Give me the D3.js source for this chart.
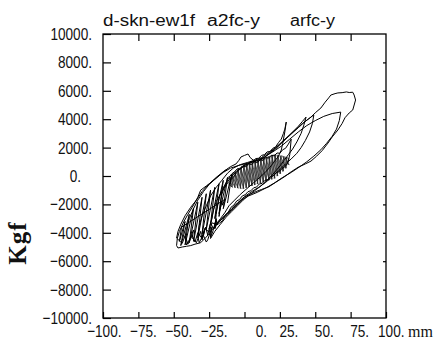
<!DOCTYPE html>
<html>
<head>
<meta charset="UTF-8">
<title>hysteresis</title>
<script src="https://cdn.jsdelivr.net/npm/d3@7"></script>
<style>
body{margin:0;background:#fff}
.lbl{font-family:"Liberation Sans",Arial,sans-serif;font-size:17px;fill:#111}
</style>
</head>
<body>
<div id="root"></div>
<script>
// ---- data (mm, kgf) ----
const titleParts = ["d-skn-ew1f", "a2fc-y", "arfc-y"]
const xTicks = [-100, -75, -50, -25, 0, 25, 50, 75, 100]
const yTicks = [-10000, -8000, -6000, -4000, -2000, 0, 2000, 4000, 6000, 8000, 10000]

// small cycles drifting right then back: the dark knot in the middle
const loopsSmall = [
  [-11,-730],[-8,220],[-9,-770],[-6,380],[-7,-800],[-4,550],[-5,-840],[-2,710],[-3,-870],[0,830],[-1,-900],[2,900],[1,-840],[4,960],[3,-770],[6,1030],[5,-700],[8,1090],[7,-640],[10,1160],
  [9,-570],[12,1230],[11,-510],[14,1290],[13,-440],[16,1360],[15,-380],[18,1420],[17,-310],[20,1490],[19,-240],[22,1500],[21,-180],[24,1470],[23,-10],[26,1440],[25,150],[28,1380],[27,320],[30,1300],[29,540],[31.5,1220],
  [29,1340],[31.5,770],[27,1420],[29.5,550],[25,1450],[27.5,340],[23,1490],[25.5,170],[21,1520],[23.5,0],[19,1460],[21.5,-160],[17,1390],[19.5,-230],[15,1320],[17.5,-290],[13,1260],[15.5,-360],[11,1190],[13.5,-420],
  [9,1130],[11.5,-490],[7,1060],[9.5,-560],[5,1000],[7.5,-620],[3,930],[5.5,-690],[1,860],[3.5,-750],[-1,800],[1.5,-820],[-3,630],[-0.5,-890],[-5,470],[-2.5,-900],[-7,300],[-4.5,-870],[-9,130],[-6.5,-830],[-11,-30],[-8.5,-800],[-12,-500]
]

// cycles creeping to the negative side, steep jagged strokes
const loopsLeft = [
  [-12,-1900],[-9,100],[-15,-2300],[-12,-100],[-18,-2650],[-15,-300],[-21,-3000],[-18,-550],[-24,-3400],[-21,-800],[-27,-3750],[-24,-1000],
  [-30,-4100],[-27,-1250],[-33,-4350],[-30,-1500],[-36,-4600],[-33,-1850],[-39,-4700],[-36,-2250],[-42,-4850],[-39,-2700],[-45,-4900],[-42,-3200],[-46,-4600],[-44.5,-3600]
]

// medium cycles: widening loops, thin leaves on the right, jagged tips on the left
const loopsMid = [
  [-14,-1650],[-15.5,-2050],[-16,-1750],[-17.5,-2500],[-18,-2850],
  [-17,-1900],[-16,-1300],[-14.5,-800],[-13,-450],[-11,-100],[-9,150],[-7,300],[-5,520],[-3,480],[-1,700],[1,650],[3,860],[5,800],[7,1000],[9,950],[11,1150],[13,1100],[15,1300],[17,1260],[19,1460],[21,1420],[23,1620],[25,1600],[27,1850],[29,1950],[31,2250],[33,2600],
  [32,1500],[30.5,900],[28.5,650],[26.5,520],[24.5,300],[22.5,250],[20.5,20],[18.5,-20],[16.5,-260],[14.5,-300],[12.5,-520],[10.5,-560],[8.5,-780],[6.5,-830],[4.5,-1040],[2.5,-1100],[0.5,-1320],[-1.5,-1400],[-3.5,-1650],[-5.5,-1760],[-7.5,-2050],[-9.5,-2200],[-11.5,-2550],[-13.5,-2750],[-15.5,-3150],[-17.5,-3300],[-19.5,-3450],[-20,-3000],[-21,-3700],
  [-20,-2700],[-19,-2000],[-18,-1500],[-16,-1000],[-14,-650],[-12,-400],[-10,-150],[-8,100],[-6,250],[-4,480],[-2,560],[0,780],[2,800],[4,1000],[6,1050],[8,1230],[10,1250],[12,1450],[14,1500],[16,1700],[18,1720],[20,1950],[22,2050],[24,2350],[26,2600],[27.5,3000],
  [28.5,3300],[29.5,3800],[28.5,3100],[27,2300],[26,1830],[24,1400],[21,1000],[18,620],[15,300],[12,0],[9,-250],[5,-600],[1,-950],[-3,-1300],[-7,-1700],[-11,-2100],[-14,-2600],[-17,-3000],[-19,-3250],[-21,-3700],[-20.5,-3200],[-22.5,-3950],[-24,-4300],[-24.5,-3600],[-25,-3700],
  [-23,-3000],[-22,-2400],[-20,-1800],[-16,-1100],[-12,-500],[-8,-100],[-5,300],[-2,600],[2,850],[6,1000],[10,1150],
  [14,1300],[18,1600],[22,1900],[26,2300],[30,2700],[34,3100],[38,3500],[41,3850],[43.5,4150],[42,3600],[40,3000],[37,2400],[34,1900],[31,1500],[28,1100],[25,700],[22,350],[19,0],[15,-400],[11,-750],[7,-1050],[3,-1350],[-1,-1700],[-5,-2100],[-9,-2500],[-13,-2900],[-17,-3400],[-21,-3900],[-24,-4400],[-23,-3600],[-26,-4500],[-27,-4650],[-29,-4200],[-28,-3700],[-30,-4300],[-32,-4700],[-33,-4200],[-32,-3500],[-30,-2800],[-27,-2100],[-24,-1400],[-20,-800],[-16,-300],[-12,200],[-8,550],[-3,800],[2,950],[7,1100],
  [12,1300],[17,1650],[22,2000],[27,2450],[32,2900],[37,3350],[41,3700],[45,4000],[49,4300],[48,3700],[46,3100],[43,2500],[40,2000],[37,1600],[33,1200],[29,850],[25,450],[20,0],[15,-450],[10,-800],[5,-1100],[0,-1450],[-5,-1900],[-9,-2350],[-14,-2800],[-18,-3200],[-22,-3700],[-24,-3300],[-26,-4150],[-27.5,-3600],[-30,-4500],[-31,-3900],[-34,-4700],[-37,-4350],[-36,-3800],[-38,-4300],[-41,-4860],[-42,-4300],[-41,-3700],[-39,-3000],[-36,-2300],[-33,-1700],[-29,-1100],[-25,-600],[-20,-150],[-15,250],[-10,550],[-4,750],[2,900],[8,1050],
  [14,1350],[20,1700],[26,2100],[32,2600],[38,3100],[44,3550],[50,3900],[56,4200],[62,4400],[68,4500],[67,3900],[65,3300],[62,2800],[58,2300],[54,1850],[49,1400],[44,1000],[39,650],[33,250],[27,-100],[21,-500],[15,-850],[9,-1150],[3,-1400],[-3,-1750],[-9,-2300],[-15,-2900],[-20,-3400],[-23,-3300],[-25,-3950],[-28,-3700],[-30,-4400],[-33,-4000],[-35,-4650],[-37,-4200],[-40,-4800],[-42,-4200],[-44,-4750],[-48,-4370],
  [-47,-3900],[-45,-3400],[-42,-2800],[-38,-2200],[-34,-1700],[-30,-1100],[-25,-550],[-20,-100],[-15,300],[-10,650],[-6,850]
]

// largest cycle, outer envelope
const loopsLarge = [
  [-4,1100],[-2.5,1340],[0,1450],[2.5,1550],[4,1300],[6,1130],[10,1050],[14,1300],[18,1650],[23,2050],[28,2500],[33,2950],[38,3400],[43,3850],[47,4150],[50,4450],[54,4790],[57,5200],[59.5,5500],[61,5700],[64,5800],[66,5850],[69,5870],[72,5920],[74,5880],[76.5,5900],[77.5,5700],[78.5,5350],[77.5,5000],[76.5,4650],[74,4440],[71,4100],[69,3700],[66,3240],[62,2750],[59,2320],[55,1800],[51,1400],[47,1050],[43,850],[38,620],[33,300],[28,-70],[22,-450],[17,-770],[12,-950],[8,-1100],[4,-1280],[0,-1480],[-4,-1900],[-8,-2300],[-12,-2700],[-16,-3050],[-19,-3300],[-23,-3800],[-27,-4300],[-31,-4700],[-35,-4800],[-38,-4900],[-41,-4950],[-44,-5000],[-47,-5070],[-48,-4900],[-47.5,-4400],
  [-46,-3900],[-43,-3240],[-40,-2700],[-36,-2040],[-33,-1500],[-31,-1000],[-27,-700],[-23,-400],[-19,-70],[-15,300],[-12,500]
]

// ---- chart ----
let width = 441, height = 348
let mLeft = 103, mRight = 386, mTop = 34, mBottom = 318
let sx = 0.8   // narrow plotter lettering

let svg = d3.select("#root").append("svg").attr("width", width).attr("height", height)

let x = d3.scaleLinear().domain([-100, 100]).range([mLeft, mRight])
let y = d3.scaleLinear().domain([-10000, 10000]).range([mBottom, mTop])

function fmt(v) { return (v < 0 ? "\u2212" : "") + Math.abs(v) + "." }

// bottom axis with labels
let gx = svg.append("g").attr("transform", "translate(0," + mBottom + ")")
  .call(d3.axisBottom(x).tickValues(xTicks).tickSizeInner(-6).tickSizeOuter(0).tickPadding(7).tickFormat(fmt))
gx.selectAll("text").attr("class", "lbl").attr("text-anchor", "end")
  .attr("x", d => (d === 0 ? 22 : 18) / sx).attr("transform", "scale(" + sx + ",1)")

// left axis with labels
let gy = svg.append("g").attr("transform", "translate(" + mLeft + ",0)")
  .call(d3.axisLeft(y).tickValues(yTicks).tickSizeInner(-8).tickSizeOuter(0).tickPadding(11).tickFormat(fmt))
gy.selectAll("text").attr("class", "lbl")
  .attr("x", d => (d === 0 ? -22 : -11) / sx).attr("transform", "scale(" + sx + ",1)")

// top and right: ticks only
svg.append("g").attr("transform", "translate(0," + mTop + ")")
  .call(d3.axisTop(x).tickValues(xTicks.slice(1, -1)).tickSizeInner(-7).tickSizeOuter(0).tickFormat(""))
svg.append("g").attr("transform", "translate(" + mRight + ",0)")
  .call(d3.axisRight(y).tickValues(yTicks.slice(1, -1)).tickSizeInner(-3).tickSizeOuter(0).tickFormat(""))

svg.selectAll(".domain").remove()
svg.selectAll(".tick line").attr("stroke", "#000").attr("stroke-width", 1.2)

svg.append("rect").attr("x", mLeft).attr("y", mTop).attr("width", mRight - mLeft).attr("height", mBottom - mTop)
  .attr("fill", "none").attr("stroke", "#000").attr("stroke-width", 1.3)

// hysteresis trace: thin knot first, then the wider cycles
let line = d3.line().x(d => x(d[0])).y(d => y(d[1]))
svg.append("path").datum(loopsSmall).attr("d", line)
  .attr("fill", "none").attr("stroke", "#222").attr("stroke-width", 0.7).attr("stroke-linejoin", "round")
svg.append("path").datum(loopsLeft.concat(loopsMid, loopsLarge)).attr("d", line)
  .attr("fill", "none").attr("stroke", "#000").attr("stroke-width", 1).attr("stroke-linejoin", "round")

// title pieces
let titleX = [103, 207, 290], titleW = [92, 53, 45]
svg.selectAll(".ttl").data(titleParts).enter().append("text")
  .attr("class", "lbl").attr("x", (d, i) => titleX[i]).attr("y", 26)
  .attr("textLength", (d, i) => titleW[i]).attr("lengthAdjust", "spacingAndGlyphs")
  .style("font-size", "16px").text(d => d)

// axis names
svg.append("text").attr("transform", "translate(26,243) rotate(-90)").attr("text-anchor", "middle")
  .style("font-family", "'Liberation Serif',serif").style("font-size", "25px").style("font-weight", "bold")
  .style("letter-spacing", "1px").attr("fill", "#111").text("Kgf")
svg.append("text").attr("x", 408).attr("y", 337)
  .style("font-family", "'Liberation Serif',serif").style("font-size", "16px").attr("fill", "#111").text("mm")
</script>
</body>
</html>
